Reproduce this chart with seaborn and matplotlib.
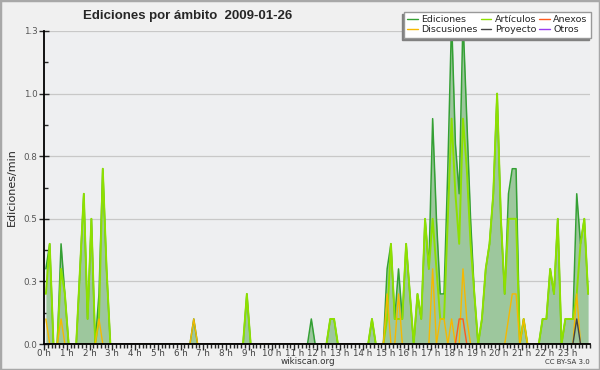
import numpy as np
import pandas as pd
import matplotlib
matplotlib.use("Agg")
import matplotlib.pyplot as plt
import seaborn as sns
from matplotlib.lines import Line2D
from matplotlib.patches import Rectangle
from matplotlib.ticker import MultipleLocator, FixedLocator

# edits per minute, one row per hour, six 10-minute bins per row
ediciones = [
    0.3, 0.4, 0.0, 0.0, 0.4, 0.2,   # 0 h
    0.0, 0.0, 0.0, 0.3, 0.6, 0.1,   # 1 h
    0.5, 0.0, 0.2, 0.7, 0.3, 0.0,   # 2 h
    0.0, 0.0, 0.0, 0.0, 0.0, 0.0,   # 3 h
    0.0, 0.0, 0.0, 0.0, 0.0, 0.0,   # 4 h
    0.0, 0.0, 0.0, 0.0, 0.0, 0.0,   # 5 h
    0.0, 0.0, 0.0, 0.1, 0.0, 0.0,   # 6 h
    0.0, 0.0, 0.0, 0.0, 0.0, 0.0,   # 7 h
    0.0, 0.0, 0.0, 0.0, 0.0, 0.2,   # 8 h
    0.0, 0.0, 0.0, 0.0, 0.0, 0.0,   # 9 h
    0.0, 0.0, 0.0, 0.0, 0.0, 0.0,   # 10 h
    0.0, 0.0, 0.0, 0.0, 0.1, 0.0,   # 11 h
    0.0, 0.0, 0.0, 0.1, 0.1, 0.0,   # 12 h
    0.0, 0.0, 0.0, 0.0, 0.0, 0.0,   # 13 h
    0.0, 0.0, 0.1, 0.0, 0.0, 0.0,   # 14 h
    0.3, 0.4, 0.1, 0.3, 0.1, 0.4,   # 15 h
    0.2, 0.0, 0.2, 0.1, 0.5, 0.3,   # 16 h
    0.9, 0.5, 0.2, 0.2, 0.7, 1.3,   # 17 h
    0.8, 0.6, 1.3, 0.9, 0.5, 0.2,   # 18 h
    0.0, 0.1, 0.3, 0.4, 0.6, 1.0,   # 19 h
    0.5, 0.2, 0.6, 0.7, 0.7, 0.0,   # 20 h
    0.1, 0.0, 0.0, 0.0, 0.0, 0.1,   # 21 h
    0.1, 0.3, 0.2, 0.5, 0.0, 0.1,   # 22 h
    0.1, 0.1, 0.6, 0.4, 0.5, 0.2,   # 23 h
]
articulos = [
    0.2, 0.4, 0.0, 0.0, 0.3, 0.2,
    0.0, 0.0, 0.0, 0.3, 0.6, 0.1,
    0.5, 0.0, 0.1, 0.7, 0.3, 0.0,
    0.0, 0.0, 0.0, 0.0, 0.0, 0.0,
    0.0, 0.0, 0.0, 0.0, 0.0, 0.0,
    0.0, 0.0, 0.0, 0.0, 0.0, 0.0,
    0.0, 0.0, 0.0, 0.0, 0.0, 0.0,
    0.0, 0.0, 0.0, 0.0, 0.0, 0.0,
    0.0, 0.0, 0.0, 0.0, 0.0, 0.2,
    0.0, 0.0, 0.0, 0.0, 0.0, 0.0,
    0.0, 0.0, 0.0, 0.0, 0.0, 0.0,
    0.0, 0.0, 0.0, 0.0, 0.0, 0.0,
    0.0, 0.0, 0.0, 0.1, 0.1, 0.0,
    0.0, 0.0, 0.0, 0.0, 0.0, 0.0,
    0.0, 0.0, 0.1, 0.0, 0.0, 0.0,
    0.1, 0.4, 0.1, 0.1, 0.1, 0.4,
    0.2, 0.0, 0.2, 0.1, 0.5, 0.3,
    0.5, 0.3, 0.1, 0.1, 0.5, 0.9,
    0.6, 0.4, 0.9, 0.7, 0.4, 0.2,
    0.0, 0.1, 0.3, 0.4, 0.6, 1.0,
    0.5, 0.2, 0.5, 0.5, 0.5, 0.0,
    0.1, 0.0, 0.0, 0.0, 0.0, 0.1,
    0.1, 0.3, 0.2, 0.5, 0.0, 0.1,
    0.1, 0.1, 0.2, 0.4, 0.5, 0.2,
]
discusiones = [
    0.1, 0.0, 0.0, 0.0, 0.1, 0.0,
    0.0, 0.0, 0.0, 0.0, 0.0, 0.0,
    0.0, 0.0, 0.1, 0.0, 0.0, 0.0,
    0.0, 0.0, 0.0, 0.0, 0.0, 0.0,
    0.0, 0.0, 0.0, 0.0, 0.0, 0.0,
    0.0, 0.0, 0.0, 0.0, 0.0, 0.0,
    0.0, 0.0, 0.0, 0.1, 0.0, 0.0,
    0.0, 0.0, 0.0, 0.0, 0.0, 0.0,
    0.0, 0.0, 0.0, 0.0, 0.0, 0.0,
    0.0, 0.0, 0.0, 0.0, 0.0, 0.0,
    0.0, 0.0, 0.0, 0.0, 0.0, 0.0,
    0.0, 0.0, 0.0, 0.0, 0.0, 0.0,
    0.0, 0.0, 0.0, 0.0, 0.0, 0.0,
    0.0, 0.0, 0.0, 0.0, 0.0, 0.0,
    0.0, 0.0, 0.0, 0.0, 0.0, 0.0,
    0.2, 0.0, 0.0, 0.2, 0.0, 0.0,
    0.0, 0.0, 0.0, 0.0, 0.0, 0.0,
    0.3, 0.0, 0.1, 0.1, 0.0, 0.1,
    0.0, 0.0, 0.3, 0.1, 0.0, 0.0,
    0.0, 0.0, 0.0, 0.0, 0.0, 0.0,
    0.0, 0.0, 0.1, 0.2, 0.2, 0.0,
    0.1, 0.0, 0.0, 0.0, 0.0, 0.0,
    0.0, 0.0, 0.0, 0.0, 0.0, 0.0,
    0.0, 0.0, 0.2, 0.0, 0.0, 0.0,
]
# only non-zero hours for the small namespaces
anexos_18h = [0.0, 0.1, 0.1, 0.0, 0.0, 0.0]
proyecto_23h = [0.0, 0.0, 0.1, 0.0, 0.0, 0.0]

hour_labels = [f"{h} h" for h in range(24)]
ytick_vals = [0.0, 0.25, 0.5, 0.75, 1.0, 1.25]
ytick_labels = ["0.0", "0.3", "0.5", "0.8", "1.0", "1.3"]

# bin centres in hours (every 10 minutes)
horas = (np.arange(144) * 10 + 5) / 60.0

anexos = np.zeros(144)
anexos[18 * 6:19 * 6] = anexos_18h
proyecto = np.zeros(144)
proyecto[23 * 6:24 * 6] = proyecto_23h

series = {
    "Ediciones": ediciones,
    "Artículos": articulos,
    "Discusiones": discusiones,
    "Anexos": anexos,
    "Proyecto": proyecto,
}
df = pd.DataFrame({
    "hora": np.tile(horas, len(series)),
    "ambito": np.repeat(list(series.keys()), len(horas)),
    "valor": np.concatenate([np.asarray(v, dtype=float) for v in series.values()]),
})

colors = {
    "Ediciones": "#34a034",
    "Artículos": "#8ee000",
    "Discusiones": "#f6b800",
    "Anexos": "#ff5a1e",
    "Proyecto": "#444444",
    "Otros": "#9a3cf0",
}
widths = {"Ediciones": 1.1, "Artículos": 1.4, "Discusiones": 1.0, "Anexos": 1.0, "Proyecto": 1.0}

sns.set_style("ticks")
plt.rcParams["font.family"] = ["DejaVu Sans"]

fig = plt.figure(figsize=(6, 3.7), dpi=100, facecolor="#f0f0f0")
ax = fig.add_axes([44 / 600, 26 / 370, 546 / 600, 313 / 370])
ax.set_facecolor("#eeeff1")

ax.fill_between(horas, ediciones, color="#9dc79d", lw=0, zorder=1)
for z, name in enumerate(series):
    sns.lineplot(data=df[df.ambito == name], x="hora", y="valor", color=colors[name],
                 lw=widths[name], estimator=None, ax=ax, zorder=2 + z)

ax.set_xlim(0, 24)
ax.set_ylim(0, 1.25)
ax.set_xlabel("")
ax.set_ylabel("")

ax.xaxis.set_major_locator(FixedLocator(range(24)))
ax.set_xticklabels(hour_labels)
ax.xaxis.set_minor_locator(MultipleLocator(1 / 6))
ax.yaxis.set_major_locator(FixedLocator(ytick_vals))
ax.set_yticklabels(ytick_labels)
ax.yaxis.set_minor_locator(MultipleLocator(0.125))

ax.tick_params(axis="x", which="major", direction="out", length=4, width=1, pad=-0.5,
               labelsize=6.3, labelcolor="#444444")
ax.tick_params(axis="x", which="minor", direction="out", length=3, width=1)
ax.tick_params(axis="y", which="major", direction="inout", length=7, width=1, pad=1,
               labelsize=6.3, labelcolor="#555555")
ax.tick_params(axis="y", which="minor", direction="in", length=3, width=1)

ax.yaxis.grid(True, color="#c8c8c8", lw=0.9, zorder=0)
ax.xaxis.grid(False)
ax.set_axisbelow(True)
for s in ["top", "right"]:
    ax.spines[s].set_visible(False)
for s in ["left", "bottom"]:
    ax.spines[s].set_color("black")
    ax.spines[s].set_linewidth(1.3)
    ax.spines[s].set_zorder(10)

handles = [Line2D([], [], color=colors[n], lw=1) for n in
           ["Ediciones", "Discusiones", "Artículos", "Proyecto", "Anexos", "Otros"]]
labels = ["Ediciones", "Discusiones", "Artículos", "Proyecto", "Anexos", "Otros"]
leg = ax.legend(handles, labels, ncol=3, loc="upper right",
                bbox_to_anchor=(591 / 600, 1 - 12 / 370), bbox_transform=fig.transFigure,
                borderaxespad=0, fontsize=6.8, frameon=True, fancybox=False, framealpha=1,
                facecolor="white", edgecolor="#999999", handlelength=1.1, handletextpad=0.4,
                columnspacing=0.3, labelspacing=0.12, borderpad=0.35,
                shadow={"ox": -1.5, "oy": -1.5, "color": "#808080", "alpha": 1})
leg.set_zorder(20)

fig.text(188 / 600, 1 - 16 / 370, "Ediciones por ámbito  2009-01-26", ha="center", va="center",
         fontsize=9.5, weight="bold", family=["Liberation Sans", "DejaVu Sans"])
fig.text(12 / 600, 1 - 187 / 370, "Ediciones/min", rotation=90, ha="center", va="center",
         fontsize=8)
fig.text(308 / 600, 1 - 362 / 370, "wikiscan.org", ha="center", va="center", fontsize=6.3,
         color="#333333")
fig.text(590 / 600, 1 - 362 / 370, "CC BY-SA 3.0", ha="right", va="center", fontsize=5,
         color="#333333")

fig.patches.append(Rectangle((0, 0), 1, 1, transform=fig.transFigure, fill=False,
                             edgecolor="#a8a8a8", lw=2.5))

fig.savefig("out.png", dpi=100, facecolor=fig.get_facecolor())
